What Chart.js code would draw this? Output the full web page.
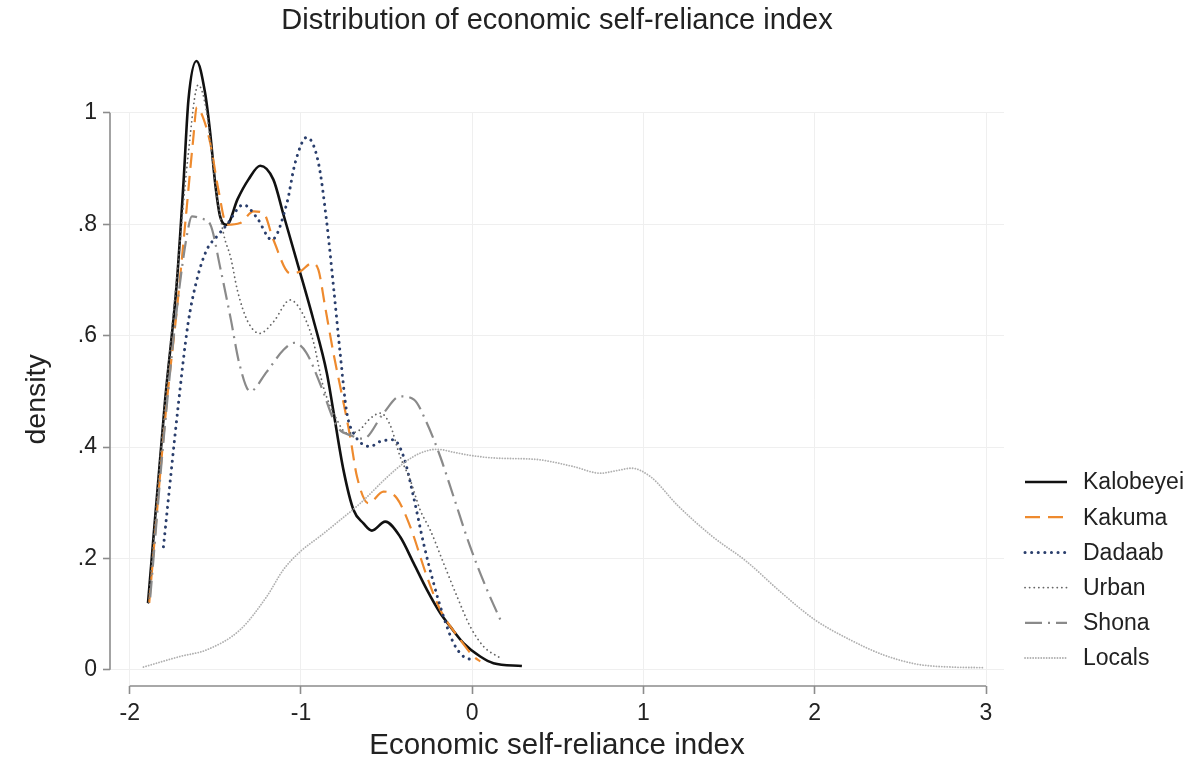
<!DOCTYPE html>
<html><head><meta charset="utf-8">
<script src="https://cdn.jsdelivr.net/npm/chart.js@4.4.1/dist/chart.umd.min.js"></script>
<style>html,body{margin:0;padding:0;background:#fff}#wrap{width:1198px;height:770px}</style>
</head><body><div id="wrap"><canvas id="c" width="1198" height="770"></canvas></div>
<script>
const titleText = 'Distribution of economic self-reliance index';
const xTitle = 'Economic self-reliance index';
const yTitle = 'density';
const seriesNames = ['Kalobeyei', 'Kakuma', 'Dadaab', 'Urban', 'Shona', 'Locals'];
const xTicks = [-2, -1, 0, 1, 2, 3];
const xTickLabels = ['-2', '-1', '0', '1', '2', '3'];
const yTicks = [0, 0.2, 0.4, 0.6, 0.8, 1];
const yTickLabels = ['0', '.2', '.4', '.6', '.8', '1'];

const kalobeyeiX = [-1.893,-1.793,-1.725,-1.686,-1.657,-1.610,-1.560,-1.530,-1.501,-1.472,-1.433,-1.370,-1.307,-1.238,-1.161,-1.102,-1.015,-0.927,-0.849,-0.812,-0.752,-0.693,-0.635,-0.586,-0.508,-0.421,-0.343,-0.265,-0.187,-0.129,-0.051,0.047,0.124,0.290];
const kalobeyeiY = [0.120,0.485,0.695,0.874,1.023,1.093,1.036,0.964,0.874,0.814,0.799,0.845,0.880,0.905,0.880,0.817,0.724,0.628,0.533,0.467,0.359,0.287,0.263,0.250,0.266,0.239,0.192,0.144,0.102,0.078,0.048,0.024,0.012,0.007];

const kakumaX = [-1.886,-1.790,-1.720,-1.670,-1.630,-1.608,-1.570,-1.530,-1.482,-1.433,-1.355,-1.277,-1.219,-1.161,-1.063,-1.005,-0.936,-0.898,-0.859,-0.810,-0.771,-0.713,-0.673,-0.606,-0.518,-0.440,-0.362,-0.265,-0.187,-0.070,0.008,0.047];
const kakumaY = [0.120,0.460,0.660,0.820,0.950,1.010,0.990,0.946,0.862,0.799,0.802,0.823,0.820,0.772,0.712,0.715,0.730,0.718,0.652,0.568,0.509,0.419,0.347,0.299,0.320,0.308,0.257,0.168,0.108,0.054,0.024,0.015];

const dadaabX = [-1.803,-1.716,-1.660,-1.608,-1.550,-1.491,-1.433,-1.336,-1.258,-1.170,-1.082,-1.034,-0.966,-0.898,-0.849,-0.810,-0.771,-0.732,-0.693,-0.596,-0.537,-0.460,-0.401,-0.343,-0.284,-0.226,-0.168,-0.109,-0.051,0.008];
const dadaabY = [0.221,0.476,0.620,0.700,0.754,0.778,0.799,0.835,0.812,0.772,0.838,0.910,0.956,0.910,0.802,0.688,0.568,0.461,0.425,0.401,0.410,0.413,0.383,0.311,0.227,0.156,0.096,0.048,0.024,0.018];

const urbanX = [-1.890,-1.800,-1.720,-1.660,-1.600,-1.550,-1.500,-1.450,-1.410,-1.370,-1.310,-1.240,-1.160,-1.063,-1.000,-0.930,-0.870,-0.800,-0.730,-0.660,-0.600,-0.537,-0.480,-0.421,-0.362,-0.304,-0.245,-0.168,-0.089,-0.012,0.066,0.164];
const urbanY = [0.120,0.460,0.720,0.920,1.050,1.000,0.870,0.780,0.740,0.680,0.625,0.604,0.625,0.664,0.645,0.592,0.509,0.455,0.425,0.430,0.450,0.461,0.440,0.383,0.341,0.287,0.251,0.192,0.132,0.078,0.042,0.021];

const shonaX = [-1.880,-1.800,-1.720,-1.660,-1.637,-1.580,-1.530,-1.470,-1.410,-1.360,-1.297,-1.200,-1.100,-1.040,-0.970,-0.890,-0.790,-0.700,-0.635,-0.520,-0.421,-0.340,-0.265,-0.187,-0.109,-0.012,0.086,0.173];
const shonaY = [0.130,0.420,0.660,0.790,0.814,0.810,0.800,0.720,0.630,0.550,0.500,0.535,0.575,0.587,0.570,0.515,0.437,0.420,0.415,0.460,0.491,0.485,0.443,0.383,0.311,0.221,0.144,0.084];

const localsX = [-1.920,-1.706,-1.550,-1.355,-1.199,-1.102,-1.005,-0.888,-0.771,-0.650,-0.500,-0.401,-0.304,-0.206,-0.100,-0.012,0.150,0.366,0.590,0.748,0.850,0.928,1.040,1.200,1.400,1.600,1.800,2.000,2.200,2.400,2.600,2.800,2.980];
const localsY = [0.005,0.024,0.036,0.072,0.132,0.180,0.212,0.240,0.269,0.300,0.345,0.371,0.389,0.396,0.390,0.385,0.380,0.378,0.365,0.353,0.358,0.362,0.347,0.295,0.240,0.195,0.140,0.090,0.055,0.027,0.010,0.005,0.004];

const FONT = "'Liberation Sans', Arial, Helvetica, sans-serif";
const TXT = '#222222';

function pts(xs, ys) { return xs.map((x, i) => ({ x: x, y: ys[i] })); }

const styles = [
  { color: '#111111', width: 2.6, dash: [], cap: 'butt' },
  { color: '#EE8A2E', width: 2.2, dash: [15, 8], cap: 'butt' },
  { color: '#2A3E6C', width: 3, dash: [0.1, 6.5], cap: 'round' },
  { color: '#666666', width: 1.8, dash: [0.1, 4.5], cap: 'round' },
  { color: '#8a8a8a', width: 2.2, dash: [17, 6, 2, 6], cap: 'butt' },
  { color: '#b0b0b0', width: 1.8, dash: [0.1, 2.6], cap: 'round' }
];
const seriesData = [
  pts(kalobeyeiX, kalobeyeiY), pts(kakumaX, kakumaY), pts(dadaabX, dadaabY),
  pts(urbanX, urbanY), pts(shonaX, shonaY), pts(localsX, localsY)
];

const datasets = seriesNames.map((name, i) => ({
  label: name,
  data: seriesData[i],
  borderColor: styles[i].color,
  borderWidth: styles[i].width,
  borderDash: styles[i].dash,
  borderCapStyle: styles[i].cap,
  pointRadius: 0,
  fill: false,
  cubicInterpolationMode: 'monotone',
  clip: false,
  order: 5 - i
}));

const axisLines = {
  id: 'axisLines',
  afterDatasetsDraw(chart) {
    const { ctx, chartArea, scales } = chart;
    ctx.save();
    ctx.strokeStyle = '#8c8c8c';
    ctx.lineWidth = 1.6;
    ctx.setLineDash([]);
    ctx.beginPath();
    ctx.moveTo(chartArea.left, scales.y.getPixelForValue(yTicks[yTicks.length - 1]));
    ctx.lineTo(chartArea.left, scales.y.getPixelForValue(yTicks[0]));
    ctx.moveTo(scales.x.getPixelForValue(xTicks[0]), chartArea.bottom);
    ctx.lineTo(scales.x.getPixelForValue(xTicks[xTicks.length - 1]), chartArea.bottom);
    ctx.stroke();
    ctx.restore();
  }
};

const sideLegend = {
  id: 'sideLegend',
  afterDraw(chart) {
    const { ctx } = chart;
    ctx.save();
    const x0 = 1025, x1 = 1067, tx = 1083, y0 = 482, dy = 35.2;
    chart.data.datasets.forEach((ds, i) => {
      const y = y0 + i * dy;
      ctx.strokeStyle = ds.borderColor;
      ctx.lineWidth = ds.borderWidth;
      ctx.setLineDash(ds.borderDash);
      ctx.lineCap = ds.borderCapStyle;
      ctx.beginPath();
      ctx.moveTo(x0, y);
      ctx.lineTo(x1, y);
      ctx.stroke();
      ctx.setLineDash([]);
      ctx.fillStyle = TXT;
      ctx.font = '23px ' + FONT;
      ctx.textBaseline = 'middle';
      ctx.textAlign = 'left';
      ctx.fillText(ds.label, tx, y + 1);
    });
    ctx.restore();
  }
};

new Chart(document.getElementById('c'), {
  type: 'line',
  data: { datasets: datasets },
  plugins: [axisLines, sideLegend],
  options: {
    responsive: false,
    animation: false,
    devicePixelRatio: 1,
    layout: { padding: { left: 0, right: 194, top: 0, bottom: 0 } },
    plugins: {
      legend: { display: false },
      tooltip: { enabled: false },
      title: {
        display: true,
        text: titleText,
        fullSize: false,
        color: TXT,
        font: { family: FONT, size: 29, weight: 'normal' },
        padding: { top: 4, bottom: 74 }
      }
    },
    scales: {
      x: {
        type: 'linear',
        min: -2.115,
        max: 3.105,
        afterBuildTicks: (s) => { s.ticks = xTicks.map(v => ({ value: v })); },
        afterFit: (s) => { s.height = 84; },
        border: { display: false },
        grid: { color: '#efefef', lineWidth: 1, drawTicks: true, tickLength: 8, tickColor: '#8c8c8c', tickWidth: 1.6 },
        ticks: {
          autoSkip: false, maxRotation: 0, padding: 6, color: TXT,
          font: { family: FONT, size: 23 },
          callback: (v) => { const k = xTicks.indexOf(v); return k >= 0 ? xTickLabels[k] : ''; }
        },
        title: { display: true, text: xTitle, color: TXT, font: { family: FONT, size: 29.5 }, padding: { top: 0, bottom: 6 } }
      },
      y: {
        type: 'linear',
        min: -0.029,
        max: 1.0,
        afterBuildTicks: (s) => { s.ticks = yTicks.map(v => ({ value: v })); },
        afterFit: (s) => { s.width = 110; },
        border: { display: false },
        grid: { color: '#efefef', lineWidth: 1, drawTicks: true, tickLength: 7, tickColor: '#8c8c8c', tickWidth: 1.6 },
        ticks: {
          autoSkip: false, padding: 6, color: TXT,
          font: { family: FONT, size: 23 },
          callback: (v) => { const k = yTicks.findIndex(t => Math.abs(t - v) < 1e-9); return k >= 0 ? yTickLabels[k] : ''; }
        },
        title: { display: true, text: yTitle, color: TXT, font: { family: FONT, size: 28.5 }, padding: { top: 20, bottom: 0 } }
      }
    }
  }
});
</script>
</body></html>
